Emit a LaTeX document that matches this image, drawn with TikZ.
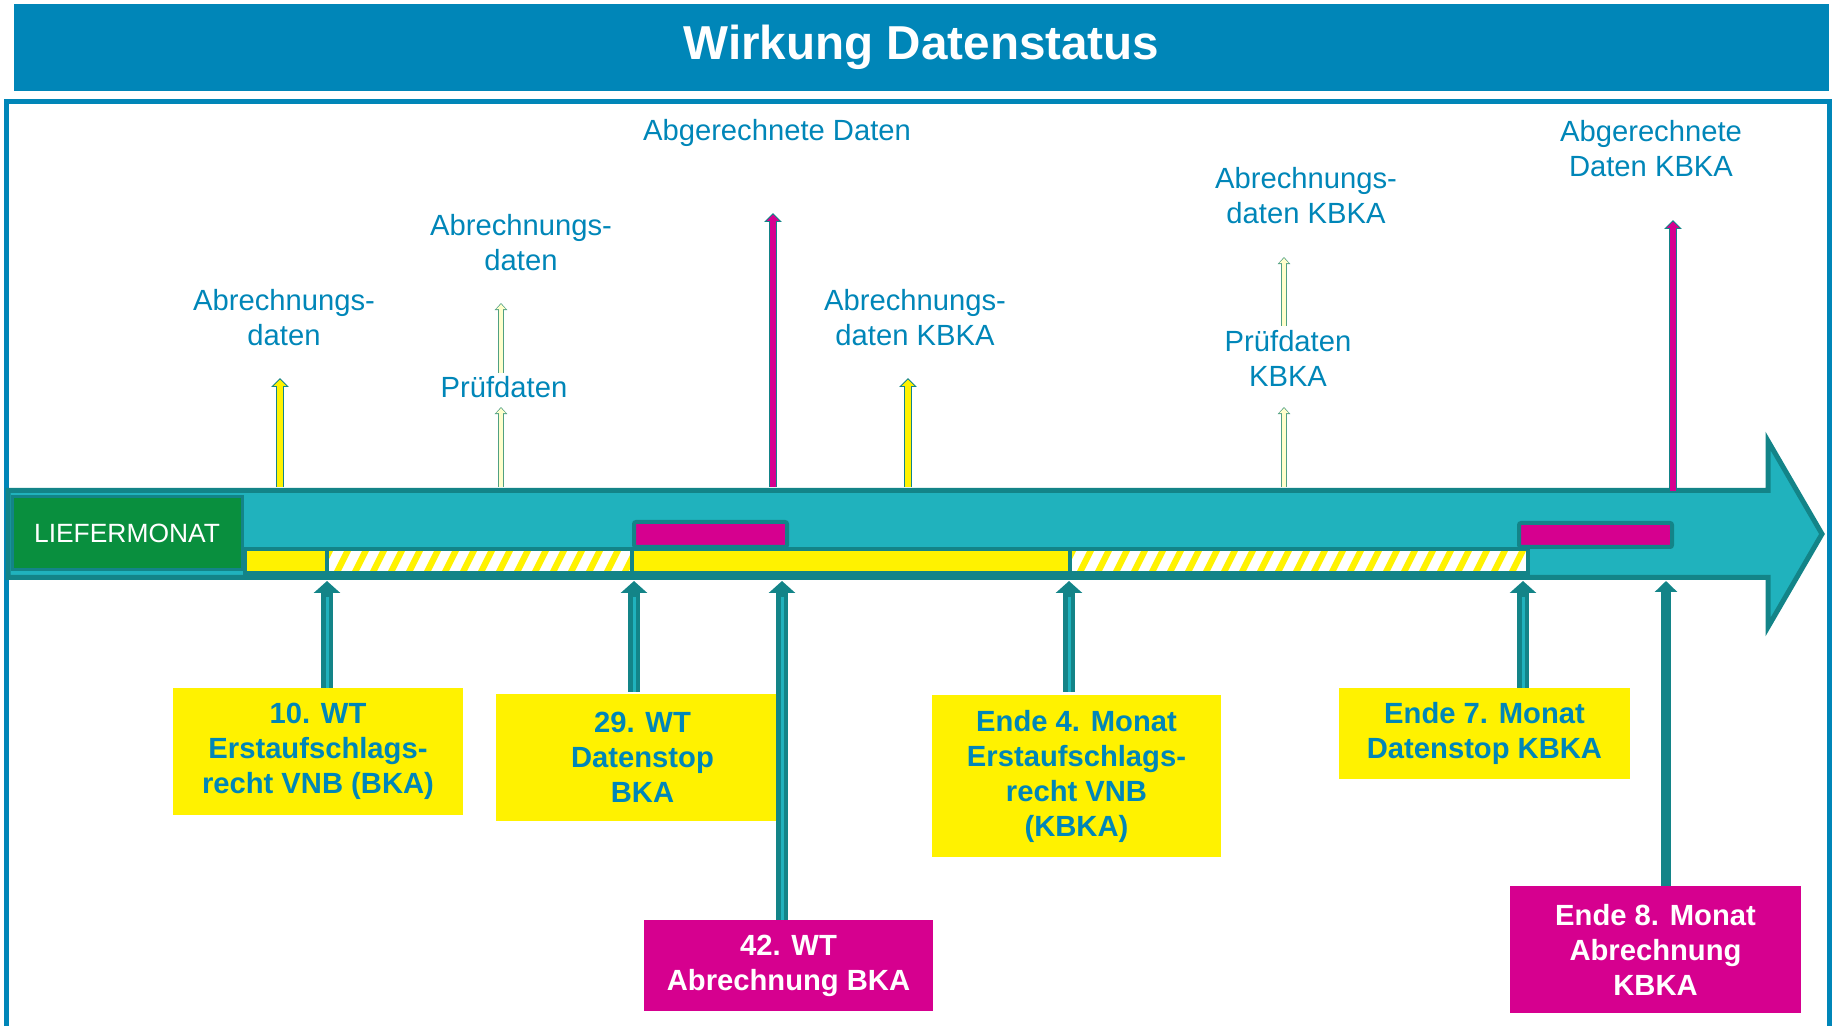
\documentclass[tikz,border=0pt]{standalone}
\usepackage{fontspec}
\setmainfont{Liberation Sans}
\usetikzlibrary{arrows.meta, positioning, calc}
\definecolor{headblue}{RGB}{0,134,184}
\definecolor{band}{RGB}{32,178,189}
\definecolor{bandedge}{RGB}{19,132,136}
\definecolor{monthgreen}{RGB}{9,143,62}
\definecolor{billmag}{RGB}{214,0,143}
\definecolor{paleyellow}{RGB}{255,255,204}
\definecolor{paleedge}{RGB}{80,160,130}

\begin{document}
\begin{tikzpicture}[
    x=0.5pt, y=-0.5pt,
    titlebar/.style={rectangle, fill=headblue, text=white, font=\bfseries\fontsize{23.8}{28}\selectfont, minimum width=907.5pt, minimum height=43.5pt, inner sep=0pt},
    month/.style={rectangle, fill=monthgreen, draw=bandedge, line width=1.5pt, text=white, font=\fontsize{13.2}{16}\selectfont, minimum width=115pt, minimum height=36.5pt, inner sep=0pt},
    datalabel/.style={text=headblue, font=\fontsize{14.6}{17.5}\selectfont, align=center, inner sep=0pt},
    datebox/.style={rectangle, fill=yellow, text=headblue, font=\bfseries\fontsize{14.6}{17.5}\selectfont, align=center, inner sep=0pt},
    billbox/.style={datebox, fill=billmag, text=white},
    bar/.style={draw=bandedge, line width=2pt},
    pole/.style={draw=bandedge, line width=4pt, -{Triangle[width=8.5pt,length=4.5pt]}, postaction={draw=#1, line width=3pt, -{Triangle[width=6.3pt,length=3.2pt]}, shorten >=0.8pt}},
    thinpole/.style={draw=paleedge, line width=2.8pt, -{Triangle[width=6.2pt,length=3.6pt]}, postaction={draw=#1, line width=2pt, -{Triangle[width=4.6pt,length=2.5pt]}, shorten >=0.6pt}},
    dayline/.style={draw=bandedge, line width=6pt, -{Triangle[width=13pt,length=6pt]}, postaction={draw=band, line width=1.5pt, -, shorten >=8pt}},
    daylineplain/.style={draw=bandedge, line width=5pt, -{Triangle[width=11pt,length=5.5pt]}}
]

    \useasboundingbox (0,0) rectangle (1833,1026);

    \node[titlebar] (title) at (921.5,47.5) {Wirkung Datenstatus};
    \draw[headblue, line width=2.5pt] (6,1040) -- (6,102) -- (1829,102) -- (1829,1040);

    % timeline
    \draw[bandedge, fill=band, line width=2.5pt, line join=miter]
        (8,490.5) -- (1768,490.5) -- (1768,441) -- (1822,534) -- (1768,627) -- (1768,577.5) -- (8,577.5) -- cycle;
    \node[month] (liefer) at (127,533.5) {LIEFERMONAT};

    \draw[bar, fill=yellow] (245,549) rectangle (327,573);
    \draw[bar, fill=yellow] (632,549) rectangle (1070,573);
    \foreach \xa/\xb in {327/632, 1070/1528} {
        \fill[white] (\xa,549) rectangle (\xb,573);
        \begin{scope}
            \clip (\xa,549) rectangle (\xb,573);
            \foreach \s in {0,18,...,480}
                \fill[yellow] (\xa+\s-12,573) -- (\xa+\s-5,573) -- (\xa+\s+7,549) -- (\xa+\s,549) -- cycle;
        \end{scope}
        \draw[bar] (\xa,549) rectangle (\xb,573);
    }
    \draw[bar, fill=billmag, rounded corners=1pt] (634,522) rectangle (787,547);
    \draw[bar, fill=billmag, rounded corners=1pt] (1519,523) rectangle (1672,547);

    % data above the timeline
    \node[datalabel] (ab1) at (284,318) {Abrechnungs-\\daten};
    \node[datalabel] (ab2) at (521,243) {Abrechnungs-\\daten};
    \node[datalabel] (pr1) at (504,387) {Prüfdaten};
    \node[datalabel] (ag1) at (777,133) {Abgerechnete Daten};
    \node[datalabel] (ab3) at (915,318) {Abrechnungs-\\daten KBKA};
    \node[datalabel] (ab4) at (1306,196) {Abrechnungs-\\daten KBKA};
    \node[datalabel] (pr2) at (1288,358) {Prüfdaten\\KBKA};
    \node[datalabel] (ag2) at (1651,149) {Abgerechnete\\Daten KBKA};

    \foreach \n/\x/\ya/\yb in {pa/280/487/378, pb/501/487/407, pc/501/373/303, pd/773/487/213,
                               pe/908/487/378, pf/1284/487/407, pg/1284/326/257, ph/1673/491/220} {
        \coordinate (\n1) at (\x,\ya);
        \coordinate (\n2) at (\x,\yb);
    }
    \draw[pole=yellow] (pa1) -- (pa2);
    \draw[thinpole=paleyellow] (pb1) -- (pb2);
    \draw[thinpole=paleyellow] (pc1) -- (pc2);
    \draw[pole=billmag] (pd1) -- (pd2);
    \draw[pole=yellow] (pe1) -- (pe2);
    \draw[thinpole=paleyellow] (pf1) -- (pf2);
    \draw[thinpole=paleyellow] (pg1) -- (pg2);
    \draw[pole=billmag] (ph1) -- (ph2);

    % deadlines below the timeline
    \node[datebox, minimum width=145pt, minimum height=63.5pt] (wt10) at (318,751.5) {10. WT\\Erstaufschlags-\\recht VNB (BKA)};
    \node[datebox, minimum width=140.5pt, minimum height=63.5pt] (wt29) at (636.5,757.5) {\hspace*{6pt}29. WT\\\hspace*{6pt}Datenstop\\\hspace*{6pt}BKA};
    \node[billbox, minimum width=144.5pt, minimum height=45.5pt] (wt42) at (788.5,965.5) {42. WT\\Abrechnung BKA};
    \node[datebox, minimum width=144.5pt, minimum height=81pt] (mon4) at (1076.5,776) {Ende 4. Monat\\Erstaufschlags-\\recht VNB\\(KBKA)};
    \node[datebox, minimum width=145.5pt, minimum height=45.5pt] (mon7) at (1484.5,733.5) {Ende 7. Monat\\Datenstop KBKA};
    \node[billbox, minimum width=145.5pt, minimum height=63.5pt] (mon8) at (1655.5,949.5) {Ende 8. Monat\\Abrechnung\\KBKA};

    \coordinate (t10) at (327,581);
    \coordinate (t29) at (634,581);
    \coordinate (t42) at (782,581);
    \coordinate (t4) at (1069,581);
    \coordinate (t7) at (1523,581);
    \coordinate (t8) at (1666,581);

    \draw[dayline] (t10 |- wt10.north) -- (t10);
    \draw[dayline] ([yshift=1pt]t29 |- wt29.north) -- (t29);
    \draw[dayline] (t42 |- wt42.north) -- (t42);
    \draw[dayline] ([yshift=1.5pt]t4 |- mon4.north) -- (t4);
    \draw[dayline] (t7 |- mon7.north) -- (t7);
    \draw[daylineplain] (t8 |- mon8.north) -- (t8);

\end{tikzpicture}
\end{document}
